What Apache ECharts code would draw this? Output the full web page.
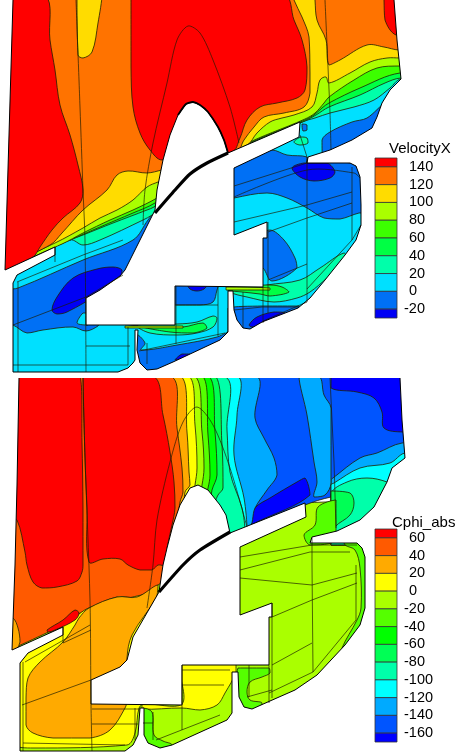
<!DOCTYPE html>
<html><head><meta charset="utf-8">
<style>html,body{margin:0;padding:0;background:#fff}#c{width:457px;height:756px}</style>
<script src="https://cdn.jsdelivr.net/npm/echarts@6/dist/echarts.min.js"></script>
</head><body><div id="c"></div>
<script>
// ---------- legends ----------
const titleA = 'VelocityX';
const titleB = 'Cphi_abs';
const levelsA = [140,120,100,80,60,40,20,0,-20];
const levelsB = [60,40,20,0,-20,-40,-60,-80,-100,-120,-140,-160];
const coloursA = ['#ff0000','#ff7300','#ffdc00','#aaff00','#3cff00','#00ff44','#00ffaa','#00e0ff','#0070f5','#0000f5'];
const coloursB = ['#ff0000','#ff5a00','#ffaa00','#ffff00','#aaff00','#55ff00','#00ff00','#00ff55','#00ffaa','#00ffff','#00aaff','#0055ff','#0000ff'];

// ---------- VelocityX: domain ----------
const outlineA = [[394,0],[397,40],[401,79],[390,90],[382,103],[377,117],[372,128],[352,140],[330,150],[308,157],[307,163],[350,163],[356,166],[360,177],[361,205],[361,225],[356,240],[345,255],[325,280],[310,298],[298,308],[280,315],[262,322],[250,329],[243,328],[237,320],[234,310],[233,291],[228,291],[228,332],[220,340],[173,362],[157,369],[147,370],[140,363],[137,350],[138,330],[135,330],[135,360],[133,363],[128,368],[118,372],[13,372],[13,283],[17,275],[55,255],[55,247],[5,270],[13,0]];
const holeA = [[86,325],[175,325],[175,286],[263,287],[263,238],[267,238],[267,222],[234,235],[234,168],[272,150],[299,137],[300,122],[228,153],[224,140],[218,127],[208,112],[200,105],[193,102],[186,104],[178,115],[170,135],[163,160],[157,190],[155,210],[145,230],[135,250],[125,270],[120,276],[100,290],[86,298]];
const bladeA = [[155,213],[175,190],[190,174],[207,163],[228,153]];
const crownA = [[228,153],[224,140],[218,127],[208,112],[200,105],[193,102],[186,104],[178,115]];

// ---------- VelocityX: contour bands, paint order [colour index, vertices] ----------
const baseA = [[-5,-5],[462,-5],[462,374],[-5,374]];
const leftBlueA = [[0,292],[18,288],[83,260],[133,240],[148,220],[160,205],[160,322],[100,322],[98,326],[86,331],[73,327],[43,330],[27,333],[13,325],[0,322]];
const leftDeepA = [[52,310],[57,297],[73,278],[97,269],[113,267],[122,270],[120,278],[100,293],[67,312],[57,314]];
const sliverCyanA = [[77,323],[83,313],[88,313],[88,325]];
const blockBlueA = [[230,170],[272,150],[287,155],[307,157],[307,163],[350,163],[366,177],[366,213],[359,213],[340,219],[324,218],[307,208],[287,198],[267,193],[234,198],[230,200]];
const blockDeepA = [[292,168],[304,163],[327,163],[335,172],[330,178],[314,181],[300,177]];
const lensBlueA = [[258,238],[270,230],[284,240],[295,258],[297,268],[272,281],[263,268],[258,268]];
const rightBlueA = [[228,308],[262,306],[299,306],[300,335],[228,335]];
const rightDeepA = [[249,325],[257,317],[274,312],[285,313],[267,322],[252,327]];
const rightAquaA = [[344,253],[347,260],[327,278],[310,292],[297,298],[274,302],[247,297],[230,292],[230,287],[247,290],[267,285],[300,280],[320,268]];
const rightGreenA = [[227,287],[270,285],[282,287],[289,292],[270,296],[260,294],[242,292],[227,290]];
const rightLimeA = [[226,287],[270,288],[270,290],[226,290]];
const midBlueTopA = [[174,284],[174,305],[200,305],[213,302],[217,290],[219,284]];
const midDeepTopA = [[187,284],[190,289],[197,291],[204,289],[208,284]];
const midBlueLowA = [[136,335],[145,343],[141,350],[177,345],[217,337],[232,330],[232,375],[136,375]];
const midDeepLowA = [[175,360],[182,354],[190,354],[186,358]];
const midAquaA = [[137,326],[150,333],[177,335],[197,333],[213,327],[217,318],[213,316],[197,322],[177,324],[150,324]];
const midGreenA = [[143,327],[183,327],[203,323],[207,328],[193,333],[170,332]];
const midLimeA = [[125,326],[183,326],[183,328],[125,328]];
const upperBlueA = [[384,104],[367,118],[352,122],[330,132],[322,140],[323,160],[390,150]];
const dotBlueA = [[302,124],[307,125],[307,130],[303,131]];
const blobAquaA = [[294,142],[301,137],[307,138],[308,143],[300,145]];
const ge20A = [[-5,-5],[462,-5],[462,79],[401,79],[390,88],[374,100],[354,107],[330,113],[315,118],[302,122],[238,152],[152,215],[143,220],[100,240],[83,245],[70,240],[-5,272]];
const ge40A = [[-5,-5],[462,-5],[462,78],[401,78],[385,83],[360,95],[329,107],[316,115],[305,121],[238,150],[154,207],[147,210],[113,223],[83,235],[70,240],[-5,272]];
const ge60A = [[-5,-5],[462,-5],[462,73],[400,73],[360,88],[329,103],[322,108],[314,115],[305,120],[240,148],[155,203],[133,213],[100,227],[70,240],[-5,272]];
const ge80A = [[-5,-5],[462,-5],[462,66],[400,66],[377,68],[354,80],[329,97],[324,103],[315,113],[305,119],[240,147],[157,198],[133,210],[110,220],[83,233],[62,244],[-5,272]];
const ge100A = [[-5,-5],[462,-5],[462,58],[400,58],[387,58],[370,62],[350,73],[329,83],[326,77],[320,80],[317,93],[312,107],[294,115],[282,118],[270,122],[257,133],[247,145],[158,182],[147,187],[133,200],[117,210],[100,218],[83,228],[55,243],[-5,270]];
const orangeLeftA = [[-5,-5],[294,-5],[294,0],[302,17],[309,37],[310,73],[310,93],[304,107],[284,113],[264,117],[254,127],[244,140],[235,155],[162,170],[147,173],[128,171],[117,175],[107,190],[83,210],[62,233],[50,245],[-5,270]];
const orangeRightA = [[315,-5],[315,0],[317,20],[326,40],[329,65],[340,60],[367,45],[384,47],[399,50],[462,50],[462,-5]];
const goldIslandA = [[77,-5],[78,55],[83,58],[92,52],[98,23],[102,-5]];
const redLeftA = [[-5,-5],[45,-5],[50,40],[55,70],[60,105],[70,135],[78,165],[83,190],[80,203],[63,218],[52,230],[40,247],[33,257],[-5,275]];
const redMidA = [[131,-5],[284,-5],[294,20],[302,40],[307,67],[305,90],[297,98],[277,103],[260,107],[247,120],[240,138],[232,152],[195,150],[162,160],[150,150],[140,133],[133,107],[131,67]];
const redRightA = [[384,-5],[384,0],[385,20],[396,35],[420,35],[420,-5]];
const fillsA = [
 [7,baseA],[8,leftBlueA],[9,leftDeepA],[7,sliverCyanA],[8,blockBlueA],[9,blockDeepA],[8,lensBlueA],[8,rightBlueA],[9,rightDeepA],
 [6,rightAquaA],[5,rightGreenA],[3,rightLimeA],[8,midBlueTopA],[9,midDeepTopA],[8,midBlueLowA],[9,midDeepLowA],[6,midAquaA],[5,midGreenA],[3,midLimeA],
 [8,upperBlueA],[8,dotBlueA],[6,blobAquaA],
 [6,ge20A],[5,ge40A],[4,ge60A],[3,ge80A],[2,ge100A],[1,orangeLeftA],[1,orangeRightA],[2,goldIslandA],[0,redLeftA],[0,redMidA],[0,redRightA]
];
const meshA = [
 [[76,0],[80,107],[83,190],[85,240],[86,372]],
 [[143,225],[145,190],[153,143],[167,83],[177,40],[188,26],[200,33],[213,60],[230,107],[239,143]],
 [[325,0],[328,67],[330,113],[331,150]],
 [[300,135],[307,157],[307,302]],
 [[234,186],[307,163]],
 [[234,197],[307,170],[354,173],[360,178]],
 [[234,222],[307,205],[352,192]],
 [[268,232],[307,218],[352,203]],
 [[352,167],[352,240],[307,289]],
 [[352,240],[361,225]],
 [[268,222],[268,313]],
 [[263,287],[263,323]],
 [[243,292],[243,328]],
 [[268,280],[307,264]],
 [[234,310],[262,307],[298,307]],
 [[263,321],[307,302]],
 [[176,286],[176,344]],
 [[218,287],[218,336]],
 [[176,305],[218,305]],
 [[139,351],[225,333]],
 [[147,343],[147,364]],
 [[18,282],[18,372]],
 [[13,365],[128,365]],
 [[86,346],[130,346]],
 [[128,327],[128,365]],
 [[13,325],[86,297],[123,275]],
 [[17,282],[83,255],[123,240]],
 [[55,247],[55,262]]
];

// ---------- Cphi_abs: domain ----------
const outlineB = [[400,378],[402,420],[405,458],[392,468],[387,482],[374,507],[360,520],[337,531],[312,537],[310,543],[357,543],[362,548],[365,557],[365,608],[360,625],[345,645],[317,675],[295,690],[270,701],[252,709],[244,707],[239,697],[238,672],[232,672],[232,713],[227,720],[172,745],[160,748],[148,743],[144,735],[144,708],[140,708],[138,735],[133,745],[125,751],[20,751],[20,663],[28,653],[63,635],[63,627],[12,650],[15,565],[17,485],[19,378]];
const holeB = [[91,704],[182,705],[182,665],[269,665],[269,617],[272,617],[272,603],[240,615],[240,547],[306,517],[305,503],[230,533],[226,515],[220,505],[208,490],[198,485],[190,488],[180,505],[173,525],[167,548],[163,565],[159,592],[133,637],[127,660],[120,667],[91,680]];
const bladeB = [[159,592],[183,565],[200,550],[230,532]];
const topStripB = [[0,374],[457,374],[457,378],[0,378]];

// ---------- Cphi_abs: contour bands ----------
const baseB = [[-5,560],[462,500],[462,756],[-5,756]];
const blueAllB = [[-5,376],[462,376],[462,470],[331,497],[305,505],[230,537],[-5,600]];
const deepTopB = [[331,376],[331,388],[357,392],[374,398],[382,412],[384,428],[403,432],[462,432],[462,376]];
const skyRightB = [[331,480],[333,478],[360,458],[377,453],[402,443],[462,440],[462,545],[331,545]];
const cyanRightB = [[331,485],[334,483],[360,468],[390,463],[405,453],[462,450],[462,545],[331,545]];
const aquaRightB = [[331,494],[347,482],[367,478],[387,482],[400,490],[400,545],[331,545]];
const greenRightB = [[331,491],[350,493],[354,503],[350,515],[335,527],[331,540]];
const skyStripB = [[299,376],[307,415],[314,462],[317,482],[314,497],[325,495],[331,483],[331,408],[324,395],[319,376]];
const deepLowB = [[248,526],[255,508],[270,498],[297,482],[305,478],[310,495],[257,522]];
const c10B = [[-5,376],[255,376],[255,418],[264,438],[274,458],[277,475],[267,490],[255,508],[248,528],[175,540],[-5,600]];
const c9bB = [[-5,376],[236,376],[237,415],[234,455],[244,498],[247,528],[175,540],[-5,600]];
const c9B = [[-5,376],[223,376],[227,430],[230,472],[242,508],[245,530],[175,540],[-5,600]];
const c8B = [[-5,376],[215,376],[222,445],[223,488],[218,495],[205,520],[-5,600]];
const c7B = [[-5,376],[208,376],[215,432],[217,475],[212,490],[205,520],[-5,600]];
const c6B = [[-5,376],[202,376],[208,435],[210,475],[208,488],[200,520],[-5,600]];
const c5B = [[-5,376],[194,376],[202,432],[204,468],[202,485],[195,520],[-5,600]];
const c4B = [[-5,376],[188,376],[195,425],[197,468],[195,485],[190,520],[-5,600]];
const c3B = [[-5,376],[180,376],[187,432],[189,472],[190,485],[185,492],[180,525],[-5,600]];
const c2B = [[-5,376],[170,376],[177,428],[182,468],[183,492],[180,502],[175,540],[170,575],[158,585],[137,597],[117,597],[89,608],[79,614],[63,625],[-5,655]];
const goldSliverB = [[5,618],[13,618],[18,628],[20,642],[12,655],[5,655]];
const yellowLeftB = [[15,660],[15,745],[33,748],[127,745],[135,733],[139,708],[145,700],[140,640],[165,590],[150,593],[89,608],[79,614],[63,625]];
const goldLeftB = [[75,625],[79,618],[89,608],[117,597],[137,597],[158,585],[156,598],[132,635],[127,658],[127,700],[125,708],[110,730],[90,738],[53,738],[33,733],[26,725],[26,698],[28,678],[40,662],[63,642]];
const yellowMidB = [[142,704],[182,704],[182,660],[236,660],[236,672],[225,693],[217,705],[200,710],[182,708],[142,709]];
const greenMidB = [[143,708],[152,712],[154,735],[163,741],[172,745],[165,755],[148,752],[140,735]];
const greenRightChamberB = [[238,668],[269,668],[270,673],[262,677],[250,682],[247,692],[250,700],[262,703],[252,712],[240,710],[236,697]];
const rimB = [[345,540],[370,540],[370,620],[345,650],[342,648],[357,620],[361,608],[360,568],[355,550],[345,545]];
const wedgeGreenB = [[318,507],[315,525],[304,535],[310,545],[336,540],[336,500]];
const redLeftB = [[10,376],[80,376],[82,442],[83,508],[83,565],[82,572],[77,581],[57,587],[42,588],[33,582],[27,565],[25,552],[17,520],[10,520]];
const redRightB = [[83,376],[85,458],[87,508],[89,562],[103,559],[120,559],[128,565],[140,570],[152,570],[158,565],[165,565],[167,548],[172,525],[175,508],[174,482],[170,452],[163,415],[153,376]];
const redIslandB = [[47,630],[63,620],[75,610],[79,613],[75,620],[55,630],[48,632]];
const fillsB = [
 [4,baseB],[11,blueAllB],[12,deepTopB],[10,skyRightB],[9,cyanRightB],[8,aquaRightB],[7,greenRightB],[10,skyStripB],[12,deepLowB],
 [10,c10B],[9,c9bB],[8,c9B],[7,c8B],[6,c7B],[5,c6B],[4,c5B],[3,c4B],[2,c3B],[1,c2B],[2,goldSliverB],
 [3,yellowLeftB],[2,goldLeftB],[3,yellowMidB],[5,greenMidB],[5,greenRightChamberB],[5,rimB],[5,wedgeGreenB],
 [0,redLeftB],[0,redRightB],[0,redIslandB]
];
const meshB = [
 [[83,378],[85,458],[90,600],[91,704],[92,751]],
 [[147,608],[153,565],[157,520],[170,462],[183,422],[197,407],[213,425],[230,468],[247,527]],
 [[330,378],[334,462],[336,528]],
 [[312,538],[312,565],[313,672]],
 [[240,557],[312,545],[357,545]],
 [[240,570],[310,552],[350,552]],
 [[240,578],[312,585],[357,573]],
 [[272,617],[312,600],[357,583]],
 [[356,565],[356,620],[313,672]],
 [[272,603],[272,698]],
 [[269,665],[269,703]],
 [[272,665],[312,643]],
 [[269,693],[313,672]],
 [[247,697],[272,690]],
 [[249,665],[249,697]],
 [[182,665],[182,730]],
 [[182,670],[230,670]],
 [[182,685],[224,685]],
 [[156,740],[220,715]],
 [[143,723],[153,723]],
 [[153,712],[153,740]],
 [[22,705],[91,680]],
 [[25,662],[90,625]],
 [[63,643],[91,630]],
 [[23,662],[23,751]],
 [[23,743],[125,745]],
 [[92,709],[140,709]],
 [[92,724],[138,724]],
 [[135,708],[135,740]],
 [[63,627],[63,643]]
];

// ---------- assembling ----------
const frameTopA=-6, frameBottomA=375, frameTopB=375, frameBottomB=760;
function ring(outline, top, bottom){
  const a=outline[0], b=outline[outline.length-1];
  return outline.concat([[b[0],top],[-6,top],[-6,bottom],[463,bottom],[463,top],[a[0],top]]);
}
const items=[];
function add(kind,pts,extra){items.push(Object.assign({kind,pts},extra));}
fillsA.forEach(f=>add('fill',f[1],{colour:coloursA[f[0]]}));
add('mask',ring(outlineA,frameTopA,frameBottomA));
add('hole',holeA);
meshA.forEach(m=>add('line',m));
add('edge',outlineA);
add('thick',bladeA,{w:3.2});
add('thick',crownA,{w:1.8});
fillsB.forEach(f=>add('fill',f[1],{colour:coloursB[f[0]]}));
add('mask',ring(outlineB,frameTopB,frameBottomB));
add('mask',topStripB);
add('hole',holeB);
meshB.forEach(m=>add('line',m));
add('edge',outlineB);
add('thick',bladeB,{w:3.2});

function renderField(params,api){
  const it=items[api.value(2)];
  const points=it.pts.map(p=>api.coord(p));
  const line={stroke:'#1c1c00',lineWidth:0.8,opacity:0.85};
  const keep=[points[0],points[0]];
  switch(it.kind){
    case 'fill': return {type:'polygon',shape:{points,smooth:0.35,smoothConstraint:keep},style:{fill:it.colour,stroke:'#202000',lineWidth:0.8}};
    case 'mask': return {type:'polygon',shape:{points},style:{fill:'#fff'}};
    case 'hole': return {type:'polygon',shape:{points},style:{fill:'#fff',stroke:'#000',lineWidth:1}};
    case 'line': return {type:'polyline',shape:{points,smooth:it.pts.length>3?0.3:0},style:Object.assign({fill:'none'},line)};
    case 'edge': return {type:'polyline',shape:{points},style:{fill:'none',stroke:'#000',lineWidth:1}};
    case 'thick': return {type:'polyline',shape:{points,smooth:0.2},style:{fill:'none',stroke:'#000',lineWidth:it.w}};
  }
}
function legendSeries(levels,colours,axisIndex,top,bottom){
  const bounds=[top].concat(levels,[bottom]);
  const data=colours.map((c,i)=>[bounds[i],bounds[i+1],i]);
  return {type:'custom',xAxisIndex:axisIndex,yAxisIndex:axisIndex,coordinateSystem:'cartesian2d',
    encode:{x:2,y:[0,1]},data,silent:true,
    renderItem(params,api){
      const i=api.value(2);
      const p0=api.coord([0,api.value(0)]), p1=api.coord([1,api.value(1)]);
      const kids=[{type:'rect',shape:{x:p0[0],y:p0[1],width:p1[0]-p0[0],height:p1[1]-p0[1]},style:{fill:colours[i],stroke:'#333',lineWidth:0.8}}];
      if(i<levels.length){
        const v=levels[i];
        kids.push({type:'text',style:{text:String(v),x:p1[0]+(v<0?7:12),y:p1[1],fill:'#000',font:'14.5px "Liberation Sans",Arial,sans-serif',textAlign:'left',textVerticalAlign:'middle'},z2:5});
      }
      return {type:'group',children:kids};
    }};
}
const option={
  animation:false,backgroundColor:'#fff',
  title:[
    {text:titleA,left:389,top:141,padding:0,textStyle:{fontFamily:'Liberation Sans',fontSize:15,fontWeight:'normal',color:'#000'}},
    {text:titleB,left:392,top:515,padding:0,textStyle:{fontFamily:'Liberation Sans',fontSize:15,fontWeight:'normal',color:'#000'}}
  ],
  grid:[
    {left:0,top:0,width:457,height:756},
    {left:375,top:158,width:22,height:160},
    {left:375,top:529,width:22,height:213}
  ],
  xAxis:[
    {type:'value',gridIndex:0,min:0,max:457,show:false},
    {type:'value',gridIndex:1,min:0,max:1,show:false},
    {type:'value',gridIndex:2,min:0,max:1,show:false}
  ],
  yAxis:[
    {type:'value',gridIndex:0,min:0,max:756,inverse:true,show:false},
    {type:'value',gridIndex:1,min:-30,max:150,show:false},
    {type:'value',gridIndex:2,min:-170,max:70,show:false}
  ],
  series:[
    {type:'custom',coordinateSystem:'cartesian2d',xAxisIndex:0,yAxisIndex:0,silent:true,encode:{x:0,y:1},
     data:items.map((_,i)=>[0,0,i]),renderItem:renderField},
    legendSeries(levelsA,coloursA,1,150,-30),
    legendSeries(levelsB,coloursB,2,70,-170)
  ]
};
echarts.init(document.getElementById('c'),null,{renderer:'canvas'}).setOption(option);
</script>
</body></html>
